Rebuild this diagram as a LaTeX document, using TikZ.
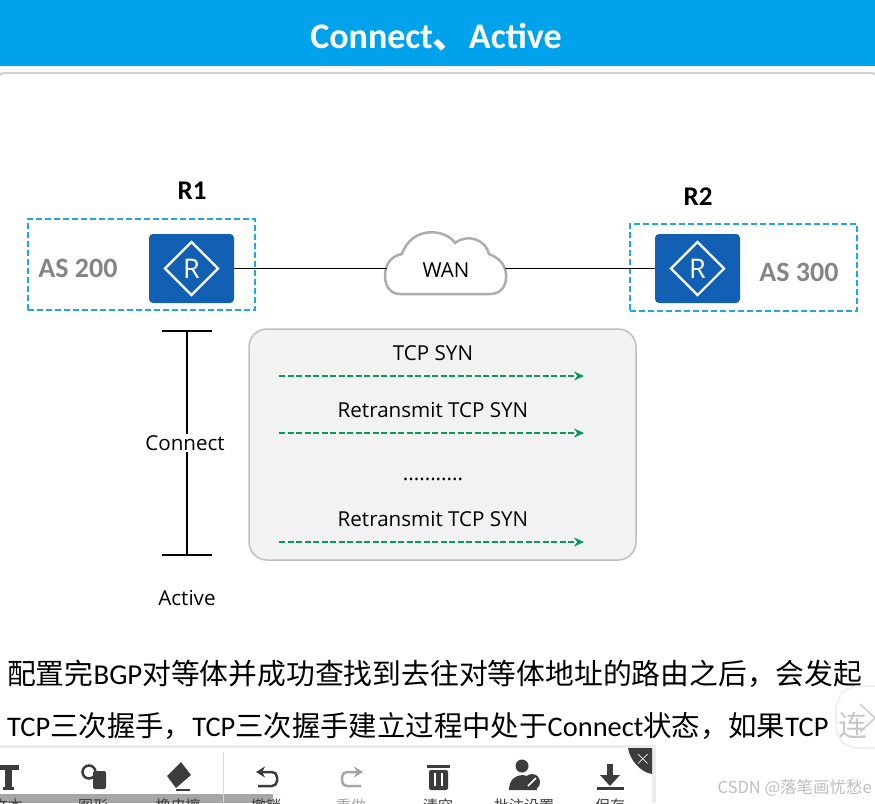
\documentclass[tikz,border=0pt]{standalone}
\usepackage{fontspec}
\setmainfont{Carlito}
\newfontfamily\cjk{Noto Sans CJK SC}
\newfontfamily\labelfont{Open Sans}
\newcommand{\cn}[1]{{\cjk #1}}
\definecolor{bandblue}{HTML}{00A2EC}
\definecolor{routerblue}{HTML}{1160B4}
\definecolor{dashblue}{HTML}{1FA8E0}
\definecolor{flowgreen}{HTML}{0A9A58}
\definecolor{toolgray}{HTML}{3C3C3C}
\usetikzlibrary{arrows.meta,shapes.geometric}
\begin{document}
\begin{tikzpicture}[
        x=1pt, y=-1pt,
        >=stealth,
        band/.style={fill=bandblue, draw=none, minimum width=875pt, minimum height=65pt, inner sep=0pt},
        asbox/.style={draw=dashblue, line width=1.6pt, dash pattern=on 6pt off 3pt, minimum width=227pt, inner sep=0pt},
        router/.style={fill=routerblue, rounded corners=4pt, minimum width=85pt, minimum height=69pt, inner sep=0pt},
        rdiamond/.style={diamond, draw=white, line width=2.2pt, inner sep=0pt, minimum width=54pt, minimum height=54pt, text=white, font=\labelfont\fontsize{27}{29}\selectfont},
        rname/.style={font=\fontsize{27}{29}\selectfont\bfseries},
        asname/.style={text=black!48, font=\fontsize{28}{30}\selectfont\bfseries},
        lab/.style={font=\labelfont\fontsize{20.6}{22}\selectfont, inner sep=1pt},
        flow/.style={-{Stealth[length=10pt,width=9pt]}, flowgreen, line width=2.4pt, dash pattern=on 6pt off 2.5pt},
        tick/.style={line width=1.5pt},
        body/.style={anchor=west, inner sep=0pt, font=\fontsize{28.8}{30}\selectfont},
        icon/.style={fill=toolgray, draw=none},
        tool/.style={text=toolgray, font=\cjk\fontsize{15}{17}\selectfont, inner sep=0pt}
    ]
        \useasboundingbox (0,0) rectangle (875,803);
        \clip (0,0) rectangle (875,803);
        \fill[black!1] (0,0) rectangle (875,803);

        \node[band] (title) at (437.5,33) {};
        \node[text=white, font=\fontsize{36}{38}\selectfont\bfseries, inner sep=0pt] (titletext) at (436,37) {Connect\cn{、}Active};
        \draw[black!18, line width=2pt, fill=white, rounded corners=6pt] (-2,73) rectangle (877,830);

        \node[asbox, minimum height=91pt] (asleft) at (141.5,264.5) {};
        \node[asbox, minimum height=87pt] (asright) at (743.5,267.5) {};
        \node[router] (r1) at (191.5,268.5) {};
        \node[rdiamond] (r1d) at (r1) {R};
        \node[router] (r2) at (697.5,268.5) {};
        \node[rdiamond] (r2d) at (r2) {R};
        \node[rname] (r1name) at (192,191) {R1};
        \node[rname] (r2name) at (698,197) {R2};
        \node[asname] (as200) at (78,268) {AS 200};
        \node[asname] (as300) at (799,272) {AS 300};

        \draw[black!32, line width=2.5pt, fill=white] (400,294) -- (490,294) .. controls (503,294) and (507,283) .. (506,274) .. controls (505,263) and (497,257) .. (489,254) .. controls (486,240) and (468,233) .. (455,243) .. controls (446,229) and (412,225) .. (402,254) .. controls (392,256) and (385,263) .. (385,276) .. controls (385,287) and (391,294) .. (400,294) -- cycle;
        \node[minimum width=118pt, minimum height=40pt, inner sep=0pt, lab] (wan) at (446,270) {WAN};
        \draw[line width=1.5pt] (r1.east) -- (r1.east -| wan.west);
        \draw[line width=1.5pt] (r2.west) -- (r2.west -| wan.east);

        \coordinate (top) at (187,331);
        \coordinate (bot) at (187,555);
        \draw[tick] (top) -- (bot);
        \draw[tick] (162,331) -- (212,331);
        \draw[tick] (162,555) -- (212,555);
        \node[lab, fill=white] (connect) at (185,443) {Connect};
        \node[lab] (active) at (187,598) {Active};

        \node[draw=black!25, fill=black!5, line width=1.5pt, rounded corners=18pt, minimum width=387pt, minimum height=231pt, inner sep=0pt] (panel) at (442.5,444.5) {};
        \coordinate (a1) at (279,376);
        \coordinate (b1) at (584,376);
        \coordinate (a2) at (279,433);
        \coordinate (b2) at (584,433);
        \coordinate (a3) at (279,542);
        \coordinate (b3) at (584,542);
        \draw[flow] (a1) -- (b1);
        \draw[flow] (a2) -- (b2);
        \draw[flow] (a3) -- (b3);
        \node[lab] (syn) at (433,353) {TCP SYN};
        \node[lab] (retrans) at (433,410) {Retransmit TCP SYN};
        \node[lab] (dots) at (433,479) {...........};
        \node[lab] (retranstwo) at (433,519) {Retransmit TCP SYN};

        \node[body] (lineone) at (7,674) {\cn{配置完}BGP\cn{对等体并成功查找到去往对等体地址的路由之后，会发起}};
        \node[body, font=\fontsize{28.4}{30}\selectfont] (linetwo) at (7,726) {TCP\cn{三次握手，}TCP\cn{三次握手建立过程中处于}Connect\cn{状态，如果}TCP};
        \node[body, text=black!22] (linetail) at (838,726) {\cn{连}};

        % side tab
        \draw[black!7, line width=1.5pt, rounded corners=10pt] (890,686) -- (848,686) -- (836,700) -- (836,736) -- (848,748) -- (890,748);
        \draw[black!20, line width=1.5pt] (860,704) -- (875,718) -- (860,732);

        % toolbar
        \fill[black!8] (-4,745) rectangle (656,803);
        \fill[white] (-4,748) rectangle (652,803);
        \fill[black!35] (0,794) rectangle (273,803);
        \draw[black!15] (223,752) -- (223,803);
        \fill[toolgray] (628,748) -- (652,748) -- (652,774) .. controls (640,772) and (630,760) .. (628,748) -- cycle;
        \node[text=white, font=\fontsize{22}{22}\selectfont\bfseries, inner sep=0pt] (closex) at (643,759) {$\times$};

        \fill[icon] (-2,765) rectangle (19,770);
        \fill[icon] (5,765) rectangle (12,789);
        \fill[icon] (3,787) rectangle (14,790);
        \draw[toolgray, line width=2.5pt] (89,772) circle (6.5pt);
        \fill[icon, rounded corners=2pt] (93,771) rectangle (106,789);
        \fill[icon] (176,788) -- (167,776) -- (181,762) -- (191,775) -- cycle;
        \draw[toolgray, line width=1.5pt] (176,790) -- (190,790);
        \draw[toolgray, line width=2.5pt, rounded corners=5pt, -{Stealth[length=9pt,width=11pt]}] (258,786) -- (277,786) -- (277,772) -- (256,772);
        \draw[black!35, line width=2.5pt, rounded corners=5pt, -{Stealth[length=9pt,width=11pt]}] (361,786) -- (342,786) -- (342,772) -- (363,772);
        \fill[icon, rounded corners=2pt] (429,770) rectangle (448,790);
        \fill[icon] (427,765) rectangle (450,768);
        \fill[white] (434,773) rectangle (436,786);
        \fill[white] (441,773) rectangle (443,786);
        \fill[icon] (522,766) circle (6.5pt);
        \fill[icon] (509,790) .. controls (509,770) and (535,770) .. (537,790) -- cycle;
        \fill[icon] (532,782) circle (8pt);
        \draw[white, line width=1.5pt] (536,778) -- (528,786);
        \fill[icon] (607,764) rectangle (613,776);
        \fill[icon] (600,775) -- (620,775) -- (610,786) -- cycle;
        \fill[icon] (597,787) rectangle (624,790);
        \node[tool] (tooltext) at (8,806) {文本};
        \node[tool] (toolshape) at (93,806) {图形};
        \node[tool] (toolerase) at (178,806) {橡皮擦};
        \node[tool] (toolundo) at (266,806) {撤销};
        \node[tool, text=black!35] (toolredo) at (351,806) {重做};
        \node[tool] (toolclear) at (438,806) {清空};
        \node[tool] (toolnote) at (524,806) {批注设置};
        \node[tool] (toolsave) at (610,806) {保存};

        \node[anchor=east, text=black!25, inner sep=0pt, font=\cjk\fontsize{16.5}{18}\selectfont] (mark) at (872,788) {CSDN @落笔画忧愁e};
    \end{tikzpicture}
\end{document}
